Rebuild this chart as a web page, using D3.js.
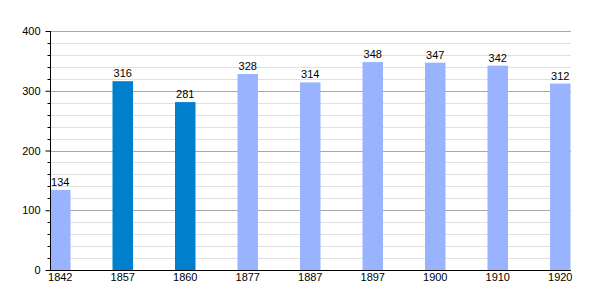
<!DOCTYPE html>
<html>
<head>
<meta charset="utf-8">
<script src="https://cdn.jsdelivr.net/npm/d3@7"></script>
<style>
  body { margin: 0; background: #fff; }
  text { font-family: "Liberation Sans", Arial, sans-serif; }
</style>
</head>
<body>
<div id="chart"></div>
<script>
// Data
const years = ['1842', '1857', '1860', '1877', '1887', '1897', '1900', '1910', '1920']
const population = [134, 316, 281, 328, 314, 348, 347, 342, 312]
const highlighted = ['1857', '1860']
const yTicks = [0, 100, 200, 300, 400]

// Dimensions
const dimensions = {
  width: 600,
  height: 300,
  left: 50,
  right: 570.5,
  top: 31,
  bottom: 270,
}

const svg = d3.select('#chart')
  .append('svg')
  .attr('width', dimensions.width)
  .attr('height', dimensions.height)

// Scales
const xScale = d3.scaleBand()
  .domain(years)
  .range([dimensions.left, dimensions.right])
  .paddingInner(0.672)
  .paddingOuter(0)

const yScale = d3.scaleLinear()
  .domain([0, 400])
  .range([dimensions.bottom, dimensions.top])

// Grid lines: minor every 20, major every 100
const minor = d3.range(20, 400, 20).filter(v => v % 100 !== 0)
svg.append('g')
  .selectAll('line')
  .data(minor)
  .join('line')
  .attr('x1', dimensions.left)
  .attr('x2', dimensions.right + 0.5)
  .attr('y1', d => Math.round(yScale(d)) + 0.5)
  .attr('y2', d => Math.round(yScale(d)) + 0.5)
  .attr('stroke', '#e0e0e0')

svg.append('g')
  .selectAll('line')
  .data(yTicks.slice(1))
  .join('line')
  .attr('x1', dimensions.left)
  .attr('x2', dimensions.right + 0.5)
  .attr('y1', d => Math.round(yScale(d)) + 0.5)
  .attr('y2', d => Math.round(yScale(d)) + 0.5)
  .attr('stroke', '#a8a8a8')

// Bars
svg.append('g')
  .selectAll('rect')
  .data(years)
  .join('rect')
  .attr('x', d => xScale(d))
  .attr('width', xScale.bandwidth())
  .attr('y', (d, i) => yScale(population[i]))
  .attr('height', (d, i) => yScale(0) - yScale(population[i]))
  .attr('fill', d => highlighted.includes(d) ? '#0080cc' : '#99b3ff')

// Value labels
svg.append('g')
  .selectAll('text')
  .data(years)
  .join('text')
  .attr('x', d => xScale(d) + xScale.bandwidth() / 2)
  .attr('y', (d, i) => yScale(population[i]) - 4)
  .attr('text-anchor', 'middle')
  .attr('font-size', 11)
  .attr('fill', '#000')
  .text((d, i) => population[i])

// Axes
const yAxis = d3.axisLeft(yScale)
  .tickValues(yTicks)
  .tickSize(5)
  .tickPadding(5)

const yAxisGroup = svg.append('g')
  .attr('transform', `translate(${dimensions.left + 0.5}, 0)`)
  .call(yAxis)
yAxisGroup.select('.domain').remove()
yAxisGroup.selectAll('text').attr('font-size', 11).attr('fill', '#000')
  .style('font-family', '"Liberation Sans", Arial, sans-serif')

// minor ticks
yAxisGroup.append('g')
  .selectAll('line')
  .data(minor)
  .join('line')
  .attr('x1', -3)
  .attr('x2', 0)
  .attr('y1', d => Math.round(yScale(d)) + 0.5)
  .attr('y2', d => Math.round(yScale(d)) + 0.5)
  .attr('stroke', '#000')

yAxisGroup.append('line')
  .attr('y1', dimensions.top)
  .attr('y2', dimensions.bottom + 1)
  .attr('stroke', '#000')

const xAxis = d3.axisBottom(xScale)
  .tickSize(0)
  .tickPadding(3)

const xAxisGroup = svg.append('g')
  .attr('transform', `translate(0, ${dimensions.bottom + 0.5})`)
  .call(xAxis)
xAxisGroup.select('.domain')
  .attr('d', `M${dimensions.left},0H${dimensions.right + 0.5}`)
  .attr('stroke', '#000')
xAxisGroup.selectAll('text').attr('font-size', 11).attr('fill', '#000')
  .style('font-family', '"Liberation Sans", Arial, sans-serif')
</script>
</body>
</html>
